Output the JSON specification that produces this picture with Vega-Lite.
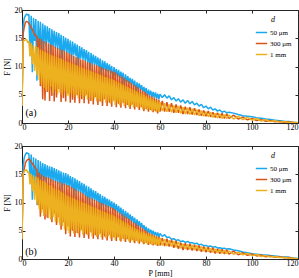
{
"$schema": "https://vega.github.io/schema/vega-lite/v6.json",
"padding": {"left": 2, "top": 5, "right": 3, "bottom": 2},
"spacing": 9,
"config": {
  "font": "Liberation Serif",
  "view": {"stroke": "#262626", "strokeWidth": 1},
  "axis": {"grid": false, "domain": false, "tickColor": "#262626", "tickSize": -3, "labelFontSize": 8, "labelColor": "#000", "titleFontSize": 8, "titleFontWeight": "normal", "titleColor": "#000", "labelPadding": 3},
  "legend": {"orient": "top-right", "titleFontStyle": "italic", "titleFontSize": 8, "titleFontWeight": "normal", "titleAnchor": "middle", "titlePadding": 2, "labelFontSize": 7, "symbolType": "stroke", "symbolStrokeWidth": 1.5, "symbolSize": 130, "rowPadding": 1, "offset": 6, "padding": 0, "labelOffset": 2}
},
"resolve": {"scale": {"color": "independent"}, "legend": {"color": "independent"}},
"datasets": {
"a": [
{"P":0,"um50":3.0,"um300":3.0,"mm1":3.0},
{"P":0.5,"um50":17.2,"um300":15.8,"mm1":14.4},
{"P":1,"um50":18.6,"um300":17.0,"mm1":14.6},
{"P":1.5,"um50":19.0,"um300":17.8,"mm1":14.7},
{"P":2,"um50":19.3,"um300":18.0,"mm1":14.8},
{"P":2.5,"um50":19.1,"um300":17.9,"mm1":14.2},
{"P":3,"um50":19.2,"um300":17.6,"mm1":14.5},
{"P":3.5,"um50":12.0,"um300":17.3,"mm1":11.8},
{"P":4,"um50":19.0,"um300":16.8,"mm1":14.2},
{"P":4.5,"um50":9.0,"um300":16.6,"mm1":10.4},
{"P":5,"um50":18.6,"um300":16.0,"mm1":13.8},
{"P":5.5,"um50":14.5,"um300":15.7,"mm1":9.2},
{"P":6,"um50":18.4,"um300":15.4,"mm1":13.6},
{"P":6.5,"um50":7.5,"um300":15.3,"mm1":8.4},
{"P":7,"um50":18.1,"um300":12.0,"mm1":13.4},
{"P":7.5,"um50":13.0,"um300":15.0,"mm1":7.6},
{"P":8,"um50":17.9,"um300":6.5,"mm1":13.0},
{"P":8.5,"um50":10.5,"um300":14.8,"mm1":6.9},
{"P":9,"um50":17.6,"um300":4.2,"mm1":12.8},
{"P":9.5,"um50":14.0,"um300":14.5,"mm1":6.2},
{"P":10,"um50":17.3,"um300":4.0,"mm1":12.6},
{"P":10.5,"um50":13.5,"um300":14.3,"mm1":5.8},
{"P":11,"um50":17.1,"um300":5.5,"mm1":12.4},
{"P":11.5,"um50":14.2,"um300":14.1,"mm1":5.6},
{"P":12,"um50":16.8,"um300":3.9,"mm1":12.2},
{"P":12.5,"um50":11.0,"um300":13.9,"mm1":6.4},
{"P":13,"um50":16.6,"um300":4.8,"mm1":12.0},
{"P":13.5,"um50":13.6,"um300":13.7,"mm1":5.3},
{"P":14,"um50":16.3,"um300":3.8,"mm1":11.9},
{"P":14.5,"um50":13.2,"um300":13.5,"mm1":5.9},
{"P":15,"um50":16.1,"um300":4.5,"mm1":11.7},
{"P":15.5,"um50":13.0,"um300":13.3,"mm1":5.1},
{"P":16,"um50":15.9,"um300":6.0,"mm1":11.5},
{"P":16.5,"um50":12.9,"um300":13.1,"mm1":5.4},
{"P":17,"um50":15.6,"um300":3.7,"mm1":11.4},
{"P":17.5,"um50":10.0,"um300":12.9,"mm1":4.9},
{"P":18,"um50":15.4,"um300":4.4,"mm1":11.2},
{"P":18.5,"um50":12.6,"um300":12.7,"mm1":5.6},
{"P":19,"um50":15.1,"um300":3.8,"mm1":11.0},
{"P":19.5,"um50":12.4,"um300":12.5,"mm1":4.8},
{"P":20,"um50":14.9,"um300":5.2,"mm1":10.8},
{"P":20.5,"um50":12.2,"um300":12.3,"mm1":4.7},
{"P":21,"um50":14.6,"um300":3.6,"mm1":10.6},
{"P":21.5,"um50":11.0,"um300":12.1,"mm1":5.2},
{"P":22,"um50":14.4,"um300":4.1,"mm1":10.5},
{"P":22.5,"um50":12.0,"um300":11.9,"mm1":4.6},
{"P":23,"um50":14.1,"um300":3.6,"mm1":10.3},
{"P":23.5,"um50":11.8,"um300":11.7,"mm1":5.0},
{"P":24,"um50":13.9,"um300":4.9,"mm1":10.2},
{"P":24.5,"um50":9.5,"um300":11.5,"mm1":4.4},
{"P":25,"um50":13.6,"um300":3.5,"mm1":10.0},
{"P":25.5,"um50":11.4,"um300":11.3,"mm1":4.9},
{"P":26,"um50":13.4,"um300":4.2,"mm1":9.8},
{"P":26.5,"um50":11.2,"um300":11.2,"mm1":4.3},
{"P":27,"um50":13.1,"um300":3.5,"mm1":9.7},
{"P":27.5,"um50":11.0,"um300":11.0,"mm1":4.7},
{"P":28,"um50":12.9,"um300":5.0,"mm1":9.5},
{"P":28.5,"um50":10.8,"um300":10.8,"mm1":4.1},
{"P":29,"um50":12.6,"um300":3.4,"mm1":9.4},
{"P":29.5,"um50":9.0,"um300":10.7,"mm1":4.5},
{"P":30,"um50":12.4,"um300":3.9,"mm1":9.2},
{"P":30.5,"um50":10.4,"um300":10.5,"mm1":3.9},
{"P":31,"um50":12.1,"um300":3.3,"mm1":9.0},
{"P":31.5,"um50":10.2,"um300":10.3,"mm1":4.4},
{"P":32,"um50":11.9,"um300":4.6,"mm1":8.9},
{"P":32.5,"um50":10.0,"um300":10.2,"mm1":3.8},
{"P":33,"um50":11.6,"um300":3.2,"mm1":8.7},
{"P":33.5,"um50":9.8,"um300":10.0,"mm1":4.2},
{"P":34,"um50":11.4,"um300":3.8,"mm1":8.6},
{"P":34.5,"um50":8.0,"um300":9.9,"mm1":3.7},
{"P":35,"um50":11.1,"um300":3.0,"mm1":8.4},
{"P":35.5,"um50":9.4,"um300":9.7,"mm1":4.1},
{"P":36,"um50":10.9,"um300":4.2,"mm1":8.2},
{"P":36.5,"um50":9.2,"um300":9.6,"mm1":3.6},
{"P":37,"um50":10.6,"um300":3.0,"mm1":8.1},
{"P":37.5,"um50":9.0,"um300":9.4,"mm1":3.9},
{"P":38,"um50":10.4,"um300":3.6,"mm1":7.9},
{"P":38.5,"um50":8.8,"um300":9.3,"mm1":3.4},
{"P":39,"um50":10.1,"um300":2.9,"mm1":7.8},
{"P":39.5,"um50":7.5,"um300":9.1,"mm1":3.8},
{"P":40,"um50":9.9,"um300":4.0,"mm1":7.6},
{"P":40.5,"um50":8.4,"um300":9.0,"mm1":3.2},
{"P":41,"um50":9.6,"um300":2.8,"mm1":7.4},
{"P":41.5,"um50":8.1,"um300":8.7,"mm1":3.6},
{"P":42,"um50":9.4,"um300":3.4,"mm1":7.2},
{"P":42.5,"um50":7.9,"um300":8.4,"mm1":3.1},
{"P":43,"um50":9.1,"um300":2.7,"mm1":7.0},
{"P":43.5,"um50":7.7,"um300":8.2,"mm1":3.5},
{"P":44,"um50":8.9,"um300":3.6,"mm1":6.8},
{"P":44.5,"um50":6.5,"um300":7.9,"mm1":3.0},
{"P":45,"um50":8.6,"um300":2.6,"mm1":6.6},
{"P":45.5,"um50":7.2,"um300":7.6,"mm1":3.3},
{"P":46,"um50":8.3,"um300":3.2,"mm1":6.4},
{"P":46.5,"um50":7.0,"um300":7.4,"mm1":2.9},
{"P":47,"um50":8.0,"um300":2.5,"mm1":6.2},
{"P":47.5,"um50":6.8,"um300":7.1,"mm1":3.1},
{"P":48,"um50":7.8,"um300":3.3,"mm1":6.0},
{"P":48.5,"um50":6.5,"um300":6.8,"mm1":2.7},
{"P":49,"um50":7.5,"um300":2.4,"mm1":5.8},
{"P":49.5,"um50":5.5,"um300":6.6,"mm1":3.0},
{"P":50,"um50":7.2,"um300":2.9,"mm1":5.6},
{"P":50.5,"um50":6.0,"um300":6.3,"mm1":2.6},
{"P":51,"um50":7.0,"um300":2.3,"mm1":5.4},
{"P":51.5,"um50":5.8,"um300":6.0,"mm1":2.8},
{"P":52,"um50":6.7,"um300":2.8,"mm1":5.2},
{"P":52.5,"um50":5.5,"um300":5.7,"mm1":2.4},
{"P":53,"um50":6.4,"um300":2.1,"mm1":5.0},
{"P":53.5,"um50":5.3,"um300":5.5,"mm1":2.6},
{"P":54,"um50":6.2,"um300":2.5,"mm1":4.8},
{"P":54.5,"um50":4.6,"um300":5.2,"mm1":2.2},
{"P":55,"um50":5.9,"um300":2.0,"mm1":4.6},
{"P":55.5,"um50":4.9,"um300":4.9,"mm1":2.4},
{"P":56,"um50":5.7,"um300":2.3,"mm1":4.4},
{"P":56.5,"um50":4.6,"um300":4.7,"mm1":2.1},
{"P":57,"um50":5.5,"um300":1.9,"mm1":4.2},
{"P":57.5,"um50":4.5,"um300":4.5,"mm1":2.2},
{"P":58,"um50":5.4,"um300":2.1,"mm1":4.0},
{"P":58.5,"um50":4.3,"um300":4.3,"mm1":1.9},
{"P":59,"um50":5.2,"um300":1.7,"mm1":3.9},
{"P":59.5,"um50":4.2,"um300":4.1,"mm1":2.0},
{"P":60,"um50":5.1,"um300":2.0,"mm1":3.7},
{"P":61,"um50":4.5,"um300":3.9,"mm1":2.1},
{"P":62,"um50":5.0,"um300":2.0,"mm1":3.5},
{"P":63,"um50":4.4,"um300":3.7,"mm1":2.0},
{"P":64,"um50":4.8,"um300":2.0,"mm1":3.3},
{"P":65,"um50":4.1,"um300":3.5,"mm1":1.9},
{"P":66,"um50":4.5,"um300":1.8,"mm1":3.1},
{"P":67,"um50":3.9,"um300":3.3,"mm1":1.8},
{"P":68,"um50":4.3,"um300":1.8,"mm1":3.0},
{"P":69,"um50":3.7,"um300":3.1,"mm1":1.7},
{"P":70,"um50":4.1,"um300":1.6,"mm1":2.8},
{"P":71,"um50":3.5,"um300":2.9,"mm1":1.6},
{"P":72,"um50":4.0,"um300":1.6,"mm1":2.7},
{"P":73,"um50":3.4,"um300":2.8,"mm1":1.5},
{"P":74,"um50":3.8,"um300":1.5,"mm1":2.5},
{"P":75,"um50":3.2,"um300":2.6,"mm1":1.4},
{"P":76,"um50":3.5,"um300":1.4,"mm1":2.4},
{"P":77,"um50":3.0,"um300":2.4,"mm1":1.3},
{"P":78,"um50":3.3,"um300":1.3,"mm1":2.2},
{"P":79,"um50":2.7,"um300":2.2,"mm1":1.2},
{"P":80,"um50":3.0,"um300":1.2,"mm1":2.0},
{"P":81,"um50":2.5,"um300":2.1,"mm1":1.1},
{"P":82,"um50":2.8,"um300":1.1,"mm1":1.9},
{"P":83,"um50":2.3,"um300":1.9,"mm1":1.0},
{"P":84,"um50":2.5,"um300":1.0,"mm1":1.7},
{"P":85,"um50":2.1,"um300":1.8,"mm1":0.9},
{"P":86,"um50":2.3,"um300":0.9,"mm1":1.6},
{"P":87,"um50":1.9,"um300":1.7,"mm1":0.8},
{"P":88,"um50":2.1,"um300":0.8,"mm1":1.5},
{"P":89,"um50":1.8,"um300":1.6,"mm1":0.8},
{"P":90,"um50":1.9,"um300":0.8,"mm1":1.4},
{"P":92,"um50":1.75,"um300":1.4,"mm1":0.7},
{"P":94,"um50":1.5,"um300":0.7,"mm1":1.2},
{"P":96,"um50":1.3,"um300":1.05,"mm1":0.6},
{"P":98,"um50":1.2,"um300":0.55,"mm1":1.0},
{"P":100,"um50":1.1,"um300":0.8,"mm1":0.5},
{"P":102,"um50":0.95,"um300":0.45,"mm1":0.8},
{"P":104,"um50":0.85,"um300":0.6,"mm1":0.35},
{"P":106,"um50":0.7,"um300":0.3,"mm1":0.6},
{"P":108,"um50":0.6,"um300":0.45,"mm1":0.25},
{"P":110,"um50":0.5,"um300":0.2,"mm1":0.4},
{"P":112,"um50":0.4,"um300":0.3,"mm1":0.15},
{"P":114,"um50":0.3,"um300":0.12,"mm1":0.25},
{"P":116,"um50":0.25,"um300":0.2,"mm1":0.1},
{"P":118,"um50":0.12,"um300":0.08,"mm1":0.12},
{"P":120,"um50":0.05,"um300":0.05,"mm1":0.05}
],
"b": [
{"P":0,"um50":3.5,"um300":3.5,"mm1":3.5},
{"P":0.5,"um50":16.5,"um300":15.0,"mm1":15.0},
{"P":1,"um50":18.0,"um300":16.0,"mm1":15.6},
{"P":1.5,"um50":18.5,"um300":17.0,"mm1":15.7},
{"P":2,"um50":18.8,"um300":17.4,"mm1":15.8},
{"P":2.5,"um50":18.7,"um300":17.6,"mm1":15.3},
{"P":3,"um50":18.6,"um300":17.7,"mm1":15.4},
{"P":3.5,"um50":14.0,"um300":17.5,"mm1":13.2},
{"P":4,"um50":18.5,"um300":17.2,"mm1":15.1},
{"P":4.5,"um50":10.5,"um300":16.9,"mm1":12.0},
{"P":5,"um50":18.0,"um300":16.6,"mm1":14.8},
{"P":5.5,"um50":12.0,"um300":16.3,"mm1":10.5},
{"P":6,"um50":17.8,"um300":16.0,"mm1":14.6},
{"P":6.5,"um50":9.6,"um300":15.7,"mm1":9.8},
{"P":7,"um50":17.5,"um300":9.5,"mm1":14.4},
{"P":7.5,"um50":11.5,"um300":15.3,"mm1":8.8},
{"P":8,"um50":17.3,"um300":7.5,"mm1":14.0},
{"P":8.5,"um50":13.5,"um300":15.0,"mm1":8.2},
{"P":9,"um50":17.0,"um300":8.8,"mm1":13.8},
{"P":9.5,"um50":14.0,"um300":14.7,"mm1":7.6},
{"P":10,"um50":16.8,"um300":7.0,"mm1":13.6},
{"P":10.5,"um50":13.8,"um300":14.5,"mm1":7.9},
{"P":11,"um50":16.6,"um300":7.3,"mm1":13.4},
{"P":11.5,"um50":14.1,"um300":14.4,"mm1":7.2},
{"P":12,"um50":16.4,"um300":9.0,"mm1":13.1},
{"P":12.5,"um50":13.6,"um300":14.2,"mm1":7.0},
{"P":13,"um50":16.3,"um300":6.5,"mm1":12.9},
{"P":13.5,"um50":13.9,"um300":14.0,"mm1":7.4},
{"P":14,"um50":16.1,"um300":8.0,"mm1":12.6},
{"P":14.5,"um50":13.6,"um300":13.8,"mm1":6.6},
{"P":15,"um50":15.9,"um300":6.0,"mm1":12.4},
{"P":15.5,"um50":13.2,"um300":13.7,"mm1":6.4},
{"P":16,"um50":15.7,"um300":7.4,"mm1":12.2},
{"P":16.5,"um50":13.4,"um300":13.6,"mm1":6.0},
{"P":17,"um50":15.5,"um300":5.2,"mm1":11.9},
{"P":17.5,"um50":12.0,"um300":13.4,"mm1":5.8},
{"P":18,"um50":15.3,"um300":6.5,"mm1":11.7},
{"P":18.5,"um50":13.0,"um300":13.3,"mm1":5.2},
{"P":19,"um50":15.2,"um300":4.4,"mm1":11.4},
{"P":19.5,"um50":12.8,"um300":13.1,"mm1":5.0},
{"P":20,"um50":15.0,"um300":5.8,"mm1":11.2},
{"P":20.5,"um50":12.7,"um300":13.0,"mm1":4.6},
{"P":21,"um50":14.7,"um300":4.0,"mm1":11.0},
{"P":21.5,"um50":12.4,"um300":12.8,"mm1":5.2},
{"P":22,"um50":14.5,"um300":5.0,"mm1":10.8},
{"P":22.5,"um50":11.0,"um300":12.5,"mm1":4.5},
{"P":23,"um50":14.3,"um300":3.9,"mm1":10.6},
{"P":23.5,"um50":12.0,"um300":12.3,"mm1":5.0},
{"P":24,"um50":14.0,"um300":4.6,"mm1":10.5},
{"P":24.5,"um50":11.8,"um300":12.0,"mm1":4.4},
{"P":25,"um50":13.8,"um300":3.8,"mm1":10.3},
{"P":25.5,"um50":11.6,"um300":11.8,"mm1":4.9},
{"P":26,"um50":13.5,"um300":5.2,"mm1":10.1},
{"P":26.5,"um50":11.4,"um300":11.6,"mm1":4.3},
{"P":27,"um50":13.3,"um300":3.7,"mm1":9.9},
{"P":27.5,"um50":11.1,"um300":11.3,"mm1":4.7},
{"P":28,"um50":13.0,"um300":4.4,"mm1":9.8},
{"P":28.5,"um50":9.5,"um300":11.1,"mm1":4.2},
{"P":29,"um50":12.8,"um300":3.6,"mm1":9.6},
{"P":29.5,"um50":10.7,"um300":10.9,"mm1":4.6},
{"P":30,"um50":12.5,"um300":4.8,"mm1":9.4},
{"P":30.5,"um50":10.5,"um300":10.7,"mm1":4.0},
{"P":31,"um50":12.2,"um300":3.6,"mm1":9.2},
{"P":31.5,"um50":10.3,"um300":10.5,"mm1":4.4},
{"P":32,"um50":12.0,"um300":4.2,"mm1":9.1},
{"P":32.5,"um50":10.1,"um300":10.3,"mm1":3.9},
{"P":33,"um50":11.7,"um300":3.5,"mm1":8.9},
{"P":33.5,"um50":9.9,"um300":10.1,"mm1":4.3},
{"P":34,"um50":11.5,"um300":4.5,"mm1":8.7},
{"P":34.5,"um50":8.5,"um300":9.9,"mm1":3.8},
{"P":35,"um50":11.2,"um300":3.4,"mm1":8.5},
{"P":35.5,"um50":9.5,"um300":9.8,"mm1":4.2},
{"P":36,"um50":11.0,"um300":4.0,"mm1":8.3},
{"P":36.5,"um50":9.3,"um300":9.6,"mm1":3.7},
{"P":37,"um50":10.7,"um300":3.3,"mm1":8.2},
{"P":37.5,"um50":9.1,"um300":9.4,"mm1":4.0},
{"P":38,"um50":10.5,"um300":4.3,"mm1":8.0},
{"P":38.5,"um50":8.9,"um300":9.2,"mm1":3.6},
{"P":39,"um50":10.2,"um300":3.2,"mm1":7.9},
{"P":39.5,"um50":8.6,"um300":9.0,"mm1":3.9},
{"P":40,"um50":10.0,"um300":3.8,"mm1":7.7},
{"P":40.5,"um50":8.4,"um300":8.8,"mm1":3.4},
{"P":41,"um50":9.7,"um300":3.2,"mm1":7.5},
{"P":41.5,"um50":8.2,"um300":8.5,"mm1":3.8},
{"P":42,"um50":9.4,"um300":3.9,"mm1":7.2},
{"P":42.5,"um50":7.9,"um300":8.2,"mm1":3.3},
{"P":43,"um50":9.1,"um300":3.1,"mm1":7.0},
{"P":43.5,"um50":7.6,"um300":7.9,"mm1":3.6},
{"P":44,"um50":8.8,"um300":3.6,"mm1":6.7},
{"P":44.5,"um50":6.8,"um300":7.7,"mm1":3.2},
{"P":45,"um50":8.5,"um300":3.0,"mm1":6.5},
{"P":45.5,"um50":7.1,"um300":7.4,"mm1":3.5},
{"P":46,"um50":8.2,"um300":3.5,"mm1":6.3},
{"P":46.5,"um50":6.8,"um300":7.1,"mm1":3.1},
{"P":47,"um50":7.9,"um300":2.9,"mm1":6.0},
{"P":47.5,"um50":6.6,"um300":6.8,"mm1":3.3},
{"P":48,"um50":7.6,"um300":3.4,"mm1":5.8},
{"P":48.5,"um50":6.3,"um300":6.5,"mm1":3.0},
{"P":49,"um50":7.3,"um300":2.8,"mm1":5.5},
{"P":49.5,"um50":5.6,"um300":6.3,"mm1":3.2},
{"P":50,"um50":7.0,"um300":3.2,"mm1":5.3},
{"P":50.5,"um50":5.8,"um300":6.0,"mm1":2.9},
{"P":51,"um50":6.7,"um300":2.7,"mm1":5.1},
{"P":51.5,"um50":5.5,"um300":5.7,"mm1":3.1},
{"P":52,"um50":6.4,"um300":3.1,"mm1":4.9},
{"P":52.5,"um50":5.3,"um300":5.4,"mm1":2.8},
{"P":53,"um50":6.0,"um300":2.6,"mm1":4.8},
{"P":53.5,"um50":5.0,"um300":5.1,"mm1":2.9},
{"P":54,"um50":5.7,"um300":2.9,"mm1":4.6},
{"P":54.5,"um50":4.5,"um300":4.9,"mm1":2.6},
{"P":55,"um50":5.4,"um300":2.5,"mm1":4.4},
{"P":55.5,"um50":4.6,"um300":4.6,"mm1":2.7},
{"P":56,"um50":5.2,"um300":2.7,"mm1":4.3},
{"P":56.5,"um50":4.4,"um300":4.4,"mm1":2.5},
{"P":57,"um50":5.0,"um300":2.4,"mm1":4.1},
{"P":57.5,"um50":4.2,"um300":4.2,"mm1":2.6},
{"P":58,"um50":4.8,"um300":2.6,"mm1":4.0},
{"P":58.5,"um50":4.0,"um300":4.0,"mm1":2.4},
{"P":59,"um50":4.7,"um300":2.3,"mm1":3.8},
{"P":59.5,"um50":3.8,"um300":3.9,"mm1":2.4},
{"P":60,"um50":4.5,"um300":2.4,"mm1":3.7},
{"P":61,"um50":4.0,"um300":3.7,"mm1":2.4},
{"P":62,"um50":4.3,"um300":2.3,"mm1":3.5},
{"P":63,"um50":3.8,"um300":3.6,"mm1":2.3},
{"P":64,"um50":3.9,"um300":2.2,"mm1":3.3},
{"P":65,"um50":3.5,"um300":3.4,"mm1":2.2},
{"P":66,"um50":3.6,"um300":2.0,"mm1":3.2},
{"P":67,"um50":3.3,"um300":3.2,"mm1":2.1},
{"P":68,"um50":3.4,"um300":1.8,"mm1":3.0},
{"P":69,"um50":3.1,"um300":2.9,"mm1":1.9},
{"P":70,"um50":3.2,"um300":1.6,"mm1":2.7},
{"P":71,"um50":2.95,"um300":2.8,"mm1":1.8},
{"P":72,"um50":3.1,"um300":1.6,"mm1":2.6},
{"P":73,"um50":2.85,"um300":2.7,"mm1":1.7},
{"P":74,"um50":2.9,"um300":1.5,"mm1":2.5},
{"P":75,"um50":2.7,"um300":2.5,"mm1":1.6},
{"P":76,"um50":2.8,"um300":1.4,"mm1":2.4},
{"P":77,"um50":2.5,"um300":2.4,"mm1":1.5},
{"P":78,"um50":2.6,"um300":1.3,"mm1":2.2},
{"P":79,"um50":2.35,"um300":2.2,"mm1":1.4},
{"P":80,"um50":2.4,"um300":1.2,"mm1":2.0},
{"P":81,"um50":2.2,"um300":2.1,"mm1":1.3},
{"P":82,"um50":2.3,"um300":1.1,"mm1":1.9},
{"P":83,"um50":2.05,"um300":2.0,"mm1":1.2},
{"P":84,"um50":2.2,"um300":1.0,"mm1":1.8},
{"P":85,"um50":1.95,"um300":1.8,"mm1":1.1},
{"P":86,"um50":2.0,"um300":0.95,"mm1":1.7},
{"P":87,"um50":1.85,"um300":1.7,"mm1":1.0},
{"P":88,"um50":1.9,"um300":0.9,"mm1":1.5},
{"P":89,"um50":1.75,"um300":1.6,"mm1":0.95},
{"P":90,"um50":1.8,"um300":0.85,"mm1":1.4},
{"P":92,"um50":1.6,"um300":1.4,"mm1":0.85},
{"P":94,"um50":1.45,"um300":0.75,"mm1":1.2},
{"P":96,"um50":1.25,"um300":1.1,"mm1":0.75},
{"P":98,"um50":1.1,"um300":0.65,"mm1":1.0},
{"P":100,"um50":0.95,"um300":0.9,"mm1":0.6},
{"P":102,"um50":0.85,"um300":0.55,"mm1":0.8},
{"P":104,"um50":0.75,"um300":0.7,"mm1":0.45},
{"P":106,"um50":0.7,"um300":0.4,"mm1":0.6},
{"P":108,"um50":0.6,"um300":0.55,"mm1":0.35},
{"P":110,"um50":0.55,"um300":0.3,"mm1":0.45},
{"P":112,"um50":0.45,"um300":0.4,"mm1":0.25},
{"P":114,"um50":0.4,"um300":0.2,"mm1":0.3},
{"P":116,"um50":0.3,"um300":0.25,"mm1":0.15},
{"P":118,"um50":0.2,"um300":0.1,"mm1":0.15},
{"P":120,"um50":0.1,"um300":0.05,"mm1":0.05}
]
},
"vconcat": [
{
  "width": 276, "height": 113,
  "layer": [
    {
      "data": {"name": "a"},
      "transform": [{"fold": ["um50", "um300", "mm1"], "as": ["d", "F"]}],
      "mark": {"type": "line", "strokeWidth": 1.5, "strokeJoin": "bevel", "clip": true},
      "encoding": {
        "x": {"field": "P", "type": "quantitative", "scale": {"domain": [0, 120], "nice": false}, "axis": {"values": [0, 20, 40, 60, 80, 100, 120], "title": null}},
        "y": {"field": "F", "type": "quantitative", "scale": {"domain": [0, 20], "nice": false}, "axis": {"values": [0, 5, 10, 15, 20], "title": "F [N]", "titlePadding": 3}},
        "color": {"field": "d", "type": "nominal", "sort": ["um50", "um300", "mm1"], "scale": {"domain": ["um50", "um300", "mm1"], "range": ["#1aa8ef", "#d95319", "#edb120"]}, "legend": {"title": "d", "labelExpr": "datum.label == 'um50' ? '50 μm' : datum.label == 'um300' ? '300 μm' : '1 mm'"}}
      }
    },
    {
      "data": {"name": "a"},
      "mark": {"type": "point", "opacity": 0},
      "encoding": {
        "x": {"field": "P", "type": "quantitative", "axis": {"orient": "top", "values": [0, 20, 40, 60, 80, 100, 120], "labels": false, "title": null}},
        "y": {"field": "um50", "type": "quantitative", "axis": {"orient": "right", "values": [0, 5, 10, 15, 20], "labels": false, "title": null}}
      }
    },
    {
      "data": {"values": [{"P": 3.9, "F": 1.7, "label": "(a)"}]},
      "mark": {"type": "text", "fontSize": 10, "align": "center", "baseline": "middle"},
      "encoding": {
        "x": {"field": "P", "type": "quantitative", "axis": null},
        "y": {"field": "F", "type": "quantitative", "axis": null},
        "text": {"field": "label"}
      }
    }
  ],
  "resolve": {"axis": {"x": "independent", "y": "independent"}}
},
{
  "width": 276, "height": 113,
  "layer": [
    {
      "data": {"name": "b"},
      "transform": [{"fold": ["um50", "um300", "mm1"], "as": ["d", "F"]}],
      "mark": {"type": "line", "strokeWidth": 1.5, "strokeJoin": "bevel", "clip": true},
      "encoding": {
        "x": {"field": "P", "type": "quantitative", "scale": {"domain": [0, 120], "nice": false}, "axis": {"values": [0, 20, 40, 60, 80, 100, 120], "title": "P [mm]", "titlePadding": 2}},
        "y": {"field": "F", "type": "quantitative", "scale": {"domain": [0, 20], "nice": false}, "axis": {"values": [0, 5, 10, 15, 20], "title": "F [N]", "titlePadding": 3}},
        "color": {"field": "d", "type": "nominal", "sort": ["um50", "um300", "mm1"], "scale": {"domain": ["um50", "um300", "mm1"], "range": ["#1aa8ef", "#d95319", "#edb120"]}, "legend": {"title": "d", "labelExpr": "datum.label == 'um50' ? '50 μm' : datum.label == 'um300' ? '300 μm' : '1 mm'"}}
      }
    },
    {
      "data": {"name": "b"},
      "mark": {"type": "point", "opacity": 0},
      "encoding": {
        "x": {"field": "P", "type": "quantitative", "axis": {"orient": "top", "values": [0, 20, 40, 60, 80, 100, 120], "labels": false, "title": null}},
        "y": {"field": "um50", "type": "quantitative", "axis": {"orient": "right", "values": [0, 5, 10, 15, 20], "labels": false, "title": null}}
      }
    },
    {
      "data": {"values": [{"P": 3.9, "F": 1.3, "label": "(b)"}]},
      "mark": {"type": "text", "fontSize": 10, "align": "center", "baseline": "middle"},
      "encoding": {
        "x": {"field": "P", "type": "quantitative", "axis": null},
        "y": {"field": "F", "type": "quantitative", "axis": null},
        "text": {"field": "label"}
      }
    }
  ],
  "resolve": {"axis": {"x": "independent", "y": "independent"}}
}
]
}
